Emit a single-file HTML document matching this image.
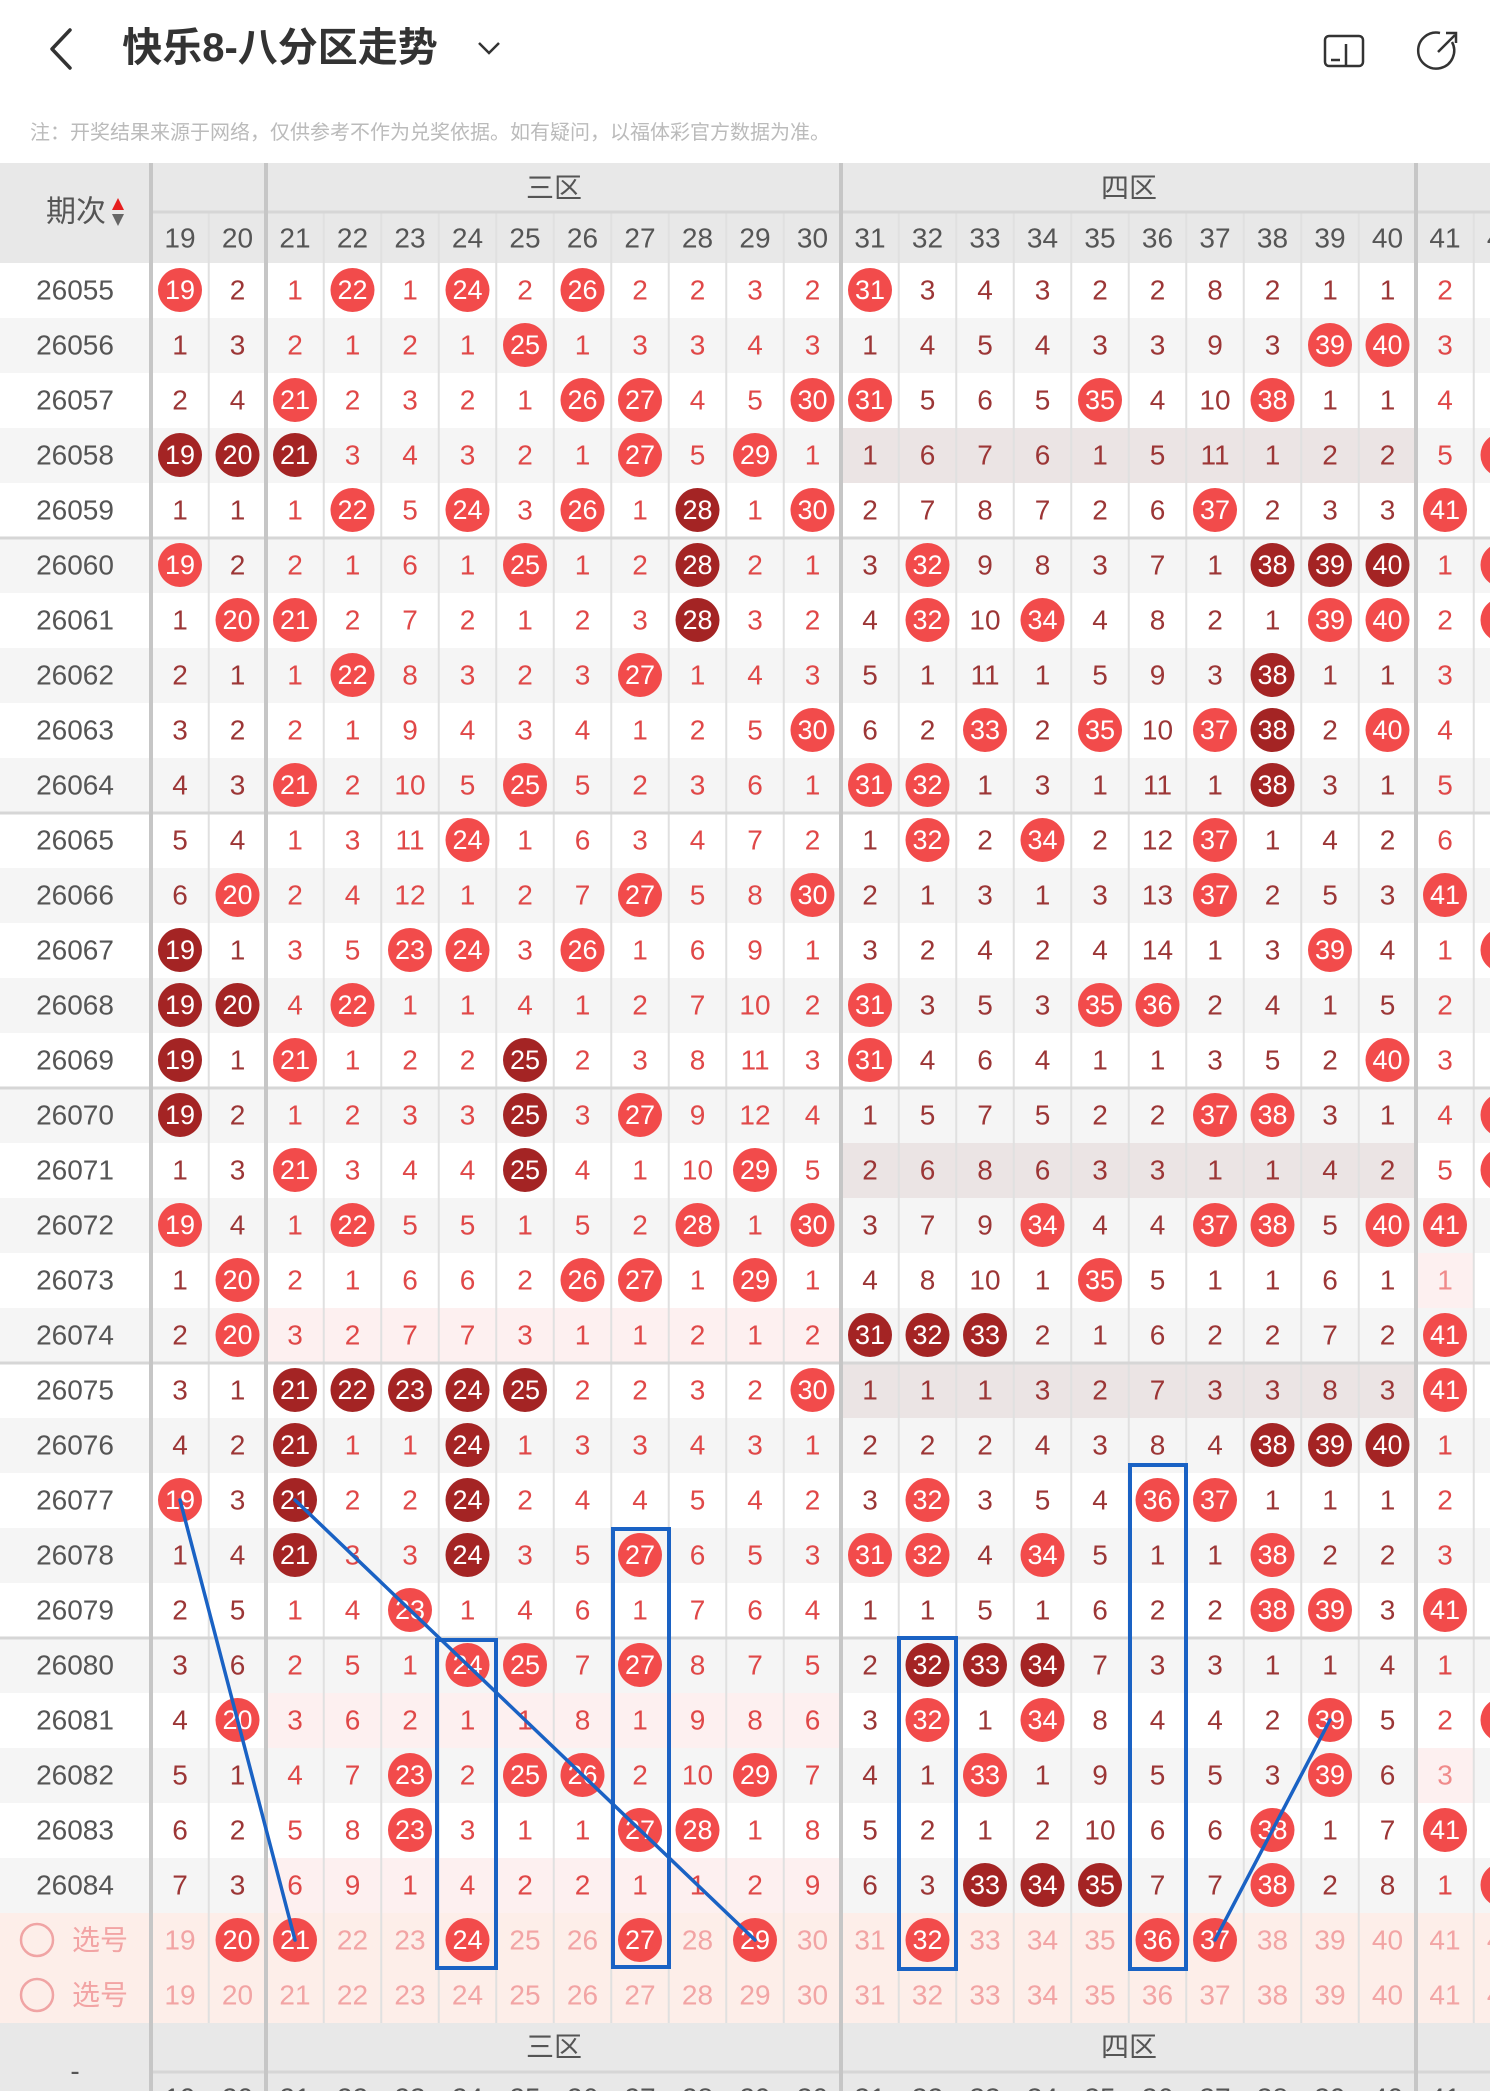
<!DOCTYPE html>
<html><head><meta charset="utf-8"><style>
html,body{margin:0;padding:0;background:#fff;}
svg{display:block}
text{font-family:"Liberation Sans","Noto Sans CJK SC",sans-serif;text-anchor:middle;dominant-baseline:central;font-size:28px}
.a{fill:#9c3636}.b{fill:#e04848}.w{fill:#fff;font-size:27px}.p{fill:#555}.h{fill:#555}.s{fill:#f2a4a4}
.r{fill:#f24b4b}.d{fill:#a42424}
</style></head><body>
<svg width="1490" height="2091" viewBox="0 0 1490 2091" xmlns="http://www.w3.org/2000/svg">
<polyline points="70,30 52,49 70,68" fill="none" stroke="#333" stroke-width="3.5" stroke-linecap="round" stroke-linejoin="round"/>
<text x="280" y="48" style="font-size:40px;font-weight:bold;fill:#333">快乐8-八分区走势</text>
<polyline points="479,43 489,53 499,43" fill="none" stroke="#333" stroke-width="2.5"/>
<rect x="1325" y="36" width="38" height="30" rx="4" fill="none" stroke="#333" stroke-width="2.5"/>
<line x1="1346" y1="44" x2="1346" y2="66" stroke="#333" stroke-width="2.5"/>
<line x1="1331" y1="60" x2="1340" y2="60" stroke="#333" stroke-width="2.5"/>
<path d="M1452,42 A18,18 0 1 1 1440,33" fill="none" stroke="#333" stroke-width="2.5"/>
<line x1="1438" y1="52" x2="1455" y2="35" stroke="#333" stroke-width="2.5"/>
<polyline points="1446,33 1456,33 1456,43" fill="none" stroke="#333" stroke-width="2.5"/>
<text x="30" y="133" style="font-size:20px;fill:#bbb;text-anchor:start">注：开奖结果来源于网络，仅供参考不作为兑奖依据。如有疑问，以福体彩官方数据为准。</text>

<rect x="0" y="163" width="1490" height="100" fill="#e8e8e8"/>
<g fill="#f5f5f5">
<rect x="0" y="318" width="1490" height="55"/><rect x="0" y="428" width="1490" height="55"/><rect x="0" y="538" width="1490" height="55"/><rect x="0" y="648" width="1490" height="55"/><rect x="0" y="758" width="1490" height="55"/><rect x="0" y="868" width="1490" height="55"/><rect x="0" y="978" width="1490" height="55"/><rect x="0" y="1088" width="1490" height="55"/><rect x="0" y="1198" width="1490" height="55"/><rect x="0" y="1308" width="1490" height="55"/><rect x="0" y="1418" width="1490" height="55"/><rect x="0" y="1528" width="1490" height="55"/><rect x="0" y="1638" width="1490" height="55"/><rect x="0" y="1748" width="1490" height="55"/><rect x="0" y="1858" width="1490" height="55"/>
</g>
<g fill="#ebe4e4">
<rect x="841" y="428" width="575" height="55"/><rect x="841" y="1143" width="575" height="55"/><rect x="841" y="1363" width="575" height="55"/>
</g>
<g fill="#fdf0f0">
<rect x="267" y="1308" width="574" height="55"/><rect x="267" y="1693" width="574" height="55"/><rect x="267" y="1858" width="574" height="55"/>
<rect x="1416" y="1253" width="58" height="55"/><rect x="1416" y="1748" width="58" height="55"/>
</g>
<rect x="0" y="1913" width="1490" height="110" fill="#fdeee9"/>
<rect x="0" y="2023" width="1490" height="68" fill="#e8e8e8"/>

<g stroke="#e0e0e0" stroke-width="2">
<line x1="208.75" y1="213" x2="208.75" y2="2023"/>
<line x1="323.75" y1="213" x2="323.75" y2="2023"/><line x1="381.25" y1="213" x2="381.25" y2="2023"/><line x1="438.75" y1="213" x2="438.75" y2="2023"/><line x1="496.25" y1="213" x2="496.25" y2="2023"/><line x1="553.75" y1="213" x2="553.75" y2="2023"/><line x1="611.25" y1="213" x2="611.25" y2="2023"/><line x1="668.75" y1="213" x2="668.75" y2="2023"/><line x1="726.25" y1="213" x2="726.25" y2="2023"/><line x1="783.75" y1="213" x2="783.75" y2="2023"/>
<line x1="898.75" y1="213" x2="898.75" y2="2023"/><line x1="956.25" y1="213" x2="956.25" y2="2023"/><line x1="1013.75" y1="213" x2="1013.75" y2="2023"/><line x1="1071.25" y1="213" x2="1071.25" y2="2023"/><line x1="1128.75" y1="213" x2="1128.75" y2="2023"/><line x1="1186.25" y1="213" x2="1186.25" y2="2023"/><line x1="1243.75" y1="213" x2="1243.75" y2="2023"/><line x1="1301.25" y1="213" x2="1301.25" y2="2023"/><line x1="1358.75" y1="213" x2="1358.75" y2="2023"/>
<line x1="1473.75" y1="213" x2="1473.75" y2="2023"/>
</g>
<g stroke="#d6d6d6" stroke-width="3">
<line x1="0" y1="538" x2="1490" y2="538"/><line x1="0" y1="813" x2="1490" y2="813"/><line x1="0" y1="1088" x2="1490" y2="1088"/><line x1="0" y1="1363" x2="1490" y2="1363"/><line x1="0" y1="1638" x2="1490" y2="1638"/>
<line x1="151" y1="212" x2="1490" y2="212"/><line x1="151" y1="2072" x2="1490" y2="2072"/>
</g>
<g stroke="#c6c6c6" stroke-width="4">
<line x1="151" y1="163" x2="151" y2="2091"/><line x1="266" y1="163" x2="266" y2="2091"/><line x1="841" y1="163" x2="841" y2="2091"/><line x1="1416" y1="163" x2="1416" y2="2091"/>
</g>

<text class="h" x="76" y="212" style="font-size:30px">期次</text>
<polygon points="118,198 112,210 124,210" fill="#e61e1e"/><polygon points="112,214 124,214 118,226" fill="#666"/>
<text class="h" x="554" y="188">三区</text><text class="h" x="1129" y="188">四区</text>
<g transform="translate(0,238)">
<text class="h" x="180">19</text><text class="h" x="237.5">20</text><text class="h" x="295">21</text><text class="h" x="352.5">22</text><text class="h" x="410">23</text><text class="h" x="467.5">24</text><text class="h" x="525">25</text><text class="h" x="582.5">26</text><text class="h" x="640">27</text><text class="h" x="697.5">28</text><text class="h" x="755">29</text><text class="h" x="812.5">30</text><text class="h" x="870">31</text><text class="h" x="927.5">32</text><text class="h" x="985">33</text><text class="h" x="1042.5">34</text><text class="h" x="1100">35</text><text class="h" x="1157.5">36</text><text class="h" x="1215">37</text><text class="h" x="1272.5">38</text><text class="h" x="1330">39</text><text class="h" x="1387.5">40</text><text class="h" x="1445">41</text><text class="h" x="1502.5">42</text>
</g>

<g class="r">
<circle cx="1502.5" cy="455" r="22"/><circle cx="1502.5" cy="565" r="22"/><circle cx="1502.5" cy="620" r="22"/><circle cx="1502.5" cy="950" r="22"/><circle cx="1502.5" cy="1115" r="22"/><circle cx="1502.5" cy="1170" r="22"/><circle cx="1502.5" cy="1720" r="22"/><circle cx="1502.5" cy="1885" r="22"/>
</g>

<g transform="translate(0,290)"><text class="p" x="75">26055</text>
<circle class="r" cx="180" r="22"/><text class="w" x="180">19</text><text class="a" x="237.5">2</text><text class="b" x="295">1</text><circle class="r" cx="352.5" r="22"/><text class="w" x="352.5">22</text><text class="b" x="410">1</text><circle class="r" cx="467.5" r="22"/><text class="w" x="467.5">24</text><text class="b" x="525">2</text><circle class="r" cx="582.5" r="22"/><text class="w" x="582.5">26</text><text class="b" x="640">2</text><text class="b" x="697.5">2</text><text class="b" x="755">3</text><text class="b" x="812.5">2</text><circle class="r" cx="870" r="22"/><text class="w" x="870">31</text><text class="a" x="927.5">3</text><text class="a" x="985">4</text><text class="a" x="1042.5">3</text><text class="a" x="1100">2</text><text class="a" x="1157.5">2</text><text class="a" x="1215">8</text><text class="a" x="1272.5">2</text><text class="a" x="1330">1</text><text class="a" x="1387.5">1</text><text class="b" x="1445">2</text></g>

<g transform="translate(0,345)"><text class="p" x="75">26056</text>
<text class="a" x="180">1</text><text class="a" x="237.5">3</text><text class="b" x="295">2</text><text class="b" x="352.5">1</text><text class="b" x="410">2</text><text class="b" x="467.5">1</text><circle class="r" cx="525" r="22"/><text class="w" x="525">25</text><text class="b" x="582.5">1</text><text class="b" x="640">3</text><text class="b" x="697.5">3</text><text class="b" x="755">4</text><text class="b" x="812.5">3</text><text class="a" x="870">1</text><text class="a" x="927.5">4</text><text class="a" x="985">5</text><text class="a" x="1042.5">4</text><text class="a" x="1100">3</text><text class="a" x="1157.5">3</text><text class="a" x="1215">9</text><text class="a" x="1272.5">3</text><circle class="r" cx="1330" r="22"/><text class="w" x="1330">39</text><circle class="r" cx="1387.5" r="22"/><text class="w" x="1387.5">40</text><text class="b" x="1445">3</text></g>

<g transform="translate(0,400)"><text class="p" x="75">26057</text>
<text class="a" x="180">2</text><text class="a" x="237.5">4</text><circle class="r" cx="295" r="22"/><text class="w" x="295">21</text><text class="b" x="352.5">2</text><text class="b" x="410">3</text><text class="b" x="467.5">2</text><text class="b" x="525">1</text><circle class="r" cx="582.5" r="22"/><text class="w" x="582.5">26</text><circle class="r" cx="640" r="22"/><text class="w" x="640">27</text><text class="b" x="697.5">4</text><text class="b" x="755">5</text><circle class="r" cx="812.5" r="22"/><text class="w" x="812.5">30</text><circle class="r" cx="870" r="22"/><text class="w" x="870">31</text><text class="a" x="927.5">5</text><text class="a" x="985">6</text><text class="a" x="1042.5">5</text><circle class="r" cx="1100" r="22"/><text class="w" x="1100">35</text><text class="a" x="1157.5">4</text><text class="a" x="1215">10</text><circle class="r" cx="1272.5" r="22"/><text class="w" x="1272.5">38</text><text class="a" x="1330">1</text><text class="a" x="1387.5">1</text><text class="b" x="1445">4</text></g>

<g transform="translate(0,455)"><text class="p" x="75">26058</text>
<circle class="d" cx="180" r="22"/><text class="w" x="180">19</text><circle class="d" cx="237.5" r="22"/><text class="w" x="237.5">20</text><circle class="d" cx="295" r="22"/><text class="w" x="295">21</text><text class="b" x="352.5">3</text><text class="b" x="410">4</text><text class="b" x="467.5">3</text><text class="b" x="525">2</text><text class="b" x="582.5">1</text><circle class="r" cx="640" r="22"/><text class="w" x="640">27</text><text class="b" x="697.5">5</text><circle class="r" cx="755" r="22"/><text class="w" x="755">29</text><text class="b" x="812.5">1</text><text class="a" x="870">1</text><text class="a" x="927.5">6</text><text class="a" x="985">7</text><text class="a" x="1042.5">6</text><text class="a" x="1100">1</text><text class="a" x="1157.5">5</text><text class="a" x="1215">11</text><text class="a" x="1272.5">1</text><text class="a" x="1330">2</text><text class="a" x="1387.5">2</text><text class="b" x="1445">5</text></g>

<g transform="translate(0,510)"><text class="p" x="75">26059</text>
<text class="a" x="180">1</text><text class="a" x="237.5">1</text><text class="b" x="295">1</text><circle class="r" cx="352.5" r="22"/><text class="w" x="352.5">22</text><text class="b" x="410">5</text><circle class="r" cx="467.5" r="22"/><text class="w" x="467.5">24</text><text class="b" x="525">3</text><circle class="r" cx="582.5" r="22"/><text class="w" x="582.5">26</text><text class="b" x="640">1</text><circle class="d" cx="697.5" r="22"/><text class="w" x="697.5">28</text><text class="b" x="755">1</text><circle class="r" cx="812.5" r="22"/><text class="w" x="812.5">30</text><text class="a" x="870">2</text><text class="a" x="927.5">7</text><text class="a" x="985">8</text><text class="a" x="1042.5">7</text><text class="a" x="1100">2</text><text class="a" x="1157.5">6</text><circle class="r" cx="1215" r="22"/><text class="w" x="1215">37</text><text class="a" x="1272.5">2</text><text class="a" x="1330">3</text><text class="a" x="1387.5">3</text><circle class="r" cx="1445" r="22"/><text class="w" x="1445">41</text></g>

<g transform="translate(0,565)"><text class="p" x="75">26060</text>
<circle class="r" cx="180" r="22"/><text class="w" x="180">19</text><text class="a" x="237.5">2</text><text class="b" x="295">2</text><text class="b" x="352.5">1</text><text class="b" x="410">6</text><text class="b" x="467.5">1</text><circle class="r" cx="525" r="22"/><text class="w" x="525">25</text><text class="b" x="582.5">1</text><text class="b" x="640">2</text><circle class="d" cx="697.5" r="22"/><text class="w" x="697.5">28</text><text class="b" x="755">2</text><text class="b" x="812.5">1</text><text class="a" x="870">3</text><circle class="r" cx="927.5" r="22"/><text class="w" x="927.5">32</text><text class="a" x="985">9</text><text class="a" x="1042.5">8</text><text class="a" x="1100">3</text><text class="a" x="1157.5">7</text><text class="a" x="1215">1</text><circle class="d" cx="1272.5" r="22"/><text class="w" x="1272.5">38</text><circle class="d" cx="1330" r="22"/><text class="w" x="1330">39</text><circle class="d" cx="1387.5" r="22"/><text class="w" x="1387.5">40</text><text class="b" x="1445">1</text></g>

<g transform="translate(0,620)"><text class="p" x="75">26061</text>
<text class="a" x="180">1</text><circle class="r" cx="237.5" r="22"/><text class="w" x="237.5">20</text><circle class="r" cx="295" r="22"/><text class="w" x="295">21</text><text class="b" x="352.5">2</text><text class="b" x="410">7</text><text class="b" x="467.5">2</text><text class="b" x="525">1</text><text class="b" x="582.5">2</text><text class="b" x="640">3</text><circle class="d" cx="697.5" r="22"/><text class="w" x="697.5">28</text><text class="b" x="755">3</text><text class="b" x="812.5">2</text><text class="a" x="870">4</text><circle class="r" cx="927.5" r="22"/><text class="w" x="927.5">32</text><text class="a" x="985">10</text><circle class="r" cx="1042.5" r="22"/><text class="w" x="1042.5">34</text><text class="a" x="1100">4</text><text class="a" x="1157.5">8</text><text class="a" x="1215">2</text><text class="a" x="1272.5">1</text><circle class="r" cx="1330" r="22"/><text class="w" x="1330">39</text><circle class="r" cx="1387.5" r="22"/><text class="w" x="1387.5">40</text><text class="b" x="1445">2</text></g>

<g transform="translate(0,675)"><text class="p" x="75">26062</text>
<text class="a" x="180">2</text><text class="a" x="237.5">1</text><text class="b" x="295">1</text><circle class="r" cx="352.5" r="22"/><text class="w" x="352.5">22</text><text class="b" x="410">8</text><text class="b" x="467.5">3</text><text class="b" x="525">2</text><text class="b" x="582.5">3</text><circle class="r" cx="640" r="22"/><text class="w" x="640">27</text><text class="b" x="697.5">1</text><text class="b" x="755">4</text><text class="b" x="812.5">3</text><text class="a" x="870">5</text><text class="a" x="927.5">1</text><text class="a" x="985">11</text><text class="a" x="1042.5">1</text><text class="a" x="1100">5</text><text class="a" x="1157.5">9</text><text class="a" x="1215">3</text><circle class="d" cx="1272.5" r="22"/><text class="w" x="1272.5">38</text><text class="a" x="1330">1</text><text class="a" x="1387.5">1</text><text class="b" x="1445">3</text></g>

<g transform="translate(0,730)"><text class="p" x="75">26063</text>
<text class="a" x="180">3</text><text class="a" x="237.5">2</text><text class="b" x="295">2</text><text class="b" x="352.5">1</text><text class="b" x="410">9</text><text class="b" x="467.5">4</text><text class="b" x="525">3</text><text class="b" x="582.5">4</text><text class="b" x="640">1</text><text class="b" x="697.5">2</text><text class="b" x="755">5</text><circle class="r" cx="812.5" r="22"/><text class="w" x="812.5">30</text><text class="a" x="870">6</text><text class="a" x="927.5">2</text><circle class="r" cx="985" r="22"/><text class="w" x="985">33</text><text class="a" x="1042.5">2</text><circle class="r" cx="1100" r="22"/><text class="w" x="1100">35</text><text class="a" x="1157.5">10</text><circle class="r" cx="1215" r="22"/><text class="w" x="1215">37</text><circle class="d" cx="1272.5" r="22"/><text class="w" x="1272.5">38</text><text class="a" x="1330">2</text><circle class="r" cx="1387.5" r="22"/><text class="w" x="1387.5">40</text><text class="b" x="1445">4</text></g>

<g transform="translate(0,785)"><text class="p" x="75">26064</text>
<text class="a" x="180">4</text><text class="a" x="237.5">3</text><circle class="r" cx="295" r="22"/><text class="w" x="295">21</text><text class="b" x="352.5">2</text><text class="b" x="410">10</text><text class="b" x="467.5">5</text><circle class="r" cx="525" r="22"/><text class="w" x="525">25</text><text class="b" x="582.5">5</text><text class="b" x="640">2</text><text class="b" x="697.5">3</text><text class="b" x="755">6</text><text class="b" x="812.5">1</text><circle class="r" cx="870" r="22"/><text class="w" x="870">31</text><circle class="r" cx="927.5" r="22"/><text class="w" x="927.5">32</text><text class="a" x="985">1</text><text class="a" x="1042.5">3</text><text class="a" x="1100">1</text><text class="a" x="1157.5">11</text><text class="a" x="1215">1</text><circle class="d" cx="1272.5" r="22"/><text class="w" x="1272.5">38</text><text class="a" x="1330">3</text><text class="a" x="1387.5">1</text><text class="b" x="1445">5</text></g>

<g transform="translate(0,840)"><text class="p" x="75">26065</text>
<text class="a" x="180">5</text><text class="a" x="237.5">4</text><text class="b" x="295">1</text><text class="b" x="352.5">3</text><text class="b" x="410">11</text><circle class="r" cx="467.5" r="22"/><text class="w" x="467.5">24</text><text class="b" x="525">1</text><text class="b" x="582.5">6</text><text class="b" x="640">3</text><text class="b" x="697.5">4</text><text class="b" x="755">7</text><text class="b" x="812.5">2</text><text class="a" x="870">1</text><circle class="r" cx="927.5" r="22"/><text class="w" x="927.5">32</text><text class="a" x="985">2</text><circle class="r" cx="1042.5" r="22"/><text class="w" x="1042.5">34</text><text class="a" x="1100">2</text><text class="a" x="1157.5">12</text><circle class="r" cx="1215" r="22"/><text class="w" x="1215">37</text><text class="a" x="1272.5">1</text><text class="a" x="1330">4</text><text class="a" x="1387.5">2</text><text class="b" x="1445">6</text></g>

<g transform="translate(0,895)"><text class="p" x="75">26066</text>
<text class="a" x="180">6</text><circle class="r" cx="237.5" r="22"/><text class="w" x="237.5">20</text><text class="b" x="295">2</text><text class="b" x="352.5">4</text><text class="b" x="410">12</text><text class="b" x="467.5">1</text><text class="b" x="525">2</text><text class="b" x="582.5">7</text><circle class="r" cx="640" r="22"/><text class="w" x="640">27</text><text class="b" x="697.5">5</text><text class="b" x="755">8</text><circle class="r" cx="812.5" r="22"/><text class="w" x="812.5">30</text><text class="a" x="870">2</text><text class="a" x="927.5">1</text><text class="a" x="985">3</text><text class="a" x="1042.5">1</text><text class="a" x="1100">3</text><text class="a" x="1157.5">13</text><circle class="r" cx="1215" r="22"/><text class="w" x="1215">37</text><text class="a" x="1272.5">2</text><text class="a" x="1330">5</text><text class="a" x="1387.5">3</text><circle class="r" cx="1445" r="22"/><text class="w" x="1445">41</text></g>

<g transform="translate(0,950)"><text class="p" x="75">26067</text>
<circle class="d" cx="180" r="22"/><text class="w" x="180">19</text><text class="a" x="237.5">1</text><text class="b" x="295">3</text><text class="b" x="352.5">5</text><circle class="r" cx="410" r="22"/><text class="w" x="410">23</text><circle class="r" cx="467.5" r="22"/><text class="w" x="467.5">24</text><text class="b" x="525">3</text><circle class="r" cx="582.5" r="22"/><text class="w" x="582.5">26</text><text class="b" x="640">1</text><text class="b" x="697.5">6</text><text class="b" x="755">9</text><text class="b" x="812.5">1</text><text class="a" x="870">3</text><text class="a" x="927.5">2</text><text class="a" x="985">4</text><text class="a" x="1042.5">2</text><text class="a" x="1100">4</text><text class="a" x="1157.5">14</text><text class="a" x="1215">1</text><text class="a" x="1272.5">3</text><circle class="r" cx="1330" r="22"/><text class="w" x="1330">39</text><text class="a" x="1387.5">4</text><text class="b" x="1445">1</text></g>

<g transform="translate(0,1005)"><text class="p" x="75">26068</text>
<circle class="d" cx="180" r="22"/><text class="w" x="180">19</text><circle class="d" cx="237.5" r="22"/><text class="w" x="237.5">20</text><text class="b" x="295">4</text><circle class="r" cx="352.5" r="22"/><text class="w" x="352.5">22</text><text class="b" x="410">1</text><text class="b" x="467.5">1</text><text class="b" x="525">4</text><text class="b" x="582.5">1</text><text class="b" x="640">2</text><text class="b" x="697.5">7</text><text class="b" x="755">10</text><text class="b" x="812.5">2</text><circle class="r" cx="870" r="22"/><text class="w" x="870">31</text><text class="a" x="927.5">3</text><text class="a" x="985">5</text><text class="a" x="1042.5">3</text><circle class="r" cx="1100" r="22"/><text class="w" x="1100">35</text><circle class="r" cx="1157.5" r="22"/><text class="w" x="1157.5">36</text><text class="a" x="1215">2</text><text class="a" x="1272.5">4</text><text class="a" x="1330">1</text><text class="a" x="1387.5">5</text><text class="b" x="1445">2</text></g>

<g transform="translate(0,1060)"><text class="p" x="75">26069</text>
<circle class="d" cx="180" r="22"/><text class="w" x="180">19</text><text class="a" x="237.5">1</text><circle class="r" cx="295" r="22"/><text class="w" x="295">21</text><text class="b" x="352.5">1</text><text class="b" x="410">2</text><text class="b" x="467.5">2</text><circle class="d" cx="525" r="22"/><text class="w" x="525">25</text><text class="b" x="582.5">2</text><text class="b" x="640">3</text><text class="b" x="697.5">8</text><text class="b" x="755">11</text><text class="b" x="812.5">3</text><circle class="r" cx="870" r="22"/><text class="w" x="870">31</text><text class="a" x="927.5">4</text><text class="a" x="985">6</text><text class="a" x="1042.5">4</text><text class="a" x="1100">1</text><text class="a" x="1157.5">1</text><text class="a" x="1215">3</text><text class="a" x="1272.5">5</text><text class="a" x="1330">2</text><circle class="r" cx="1387.5" r="22"/><text class="w" x="1387.5">40</text><text class="b" x="1445">3</text></g>

<g transform="translate(0,1115)"><text class="p" x="75">26070</text>
<circle class="d" cx="180" r="22"/><text class="w" x="180">19</text><text class="a" x="237.5">2</text><text class="b" x="295">1</text><text class="b" x="352.5">2</text><text class="b" x="410">3</text><text class="b" x="467.5">3</text><circle class="d" cx="525" r="22"/><text class="w" x="525">25</text><text class="b" x="582.5">3</text><circle class="r" cx="640" r="22"/><text class="w" x="640">27</text><text class="b" x="697.5">9</text><text class="b" x="755">12</text><text class="b" x="812.5">4</text><text class="a" x="870">1</text><text class="a" x="927.5">5</text><text class="a" x="985">7</text><text class="a" x="1042.5">5</text><text class="a" x="1100">2</text><text class="a" x="1157.5">2</text><circle class="r" cx="1215" r="22"/><text class="w" x="1215">37</text><circle class="r" cx="1272.5" r="22"/><text class="w" x="1272.5">38</text><text class="a" x="1330">3</text><text class="a" x="1387.5">1</text><text class="b" x="1445">4</text></g>

<g transform="translate(0,1170)"><text class="p" x="75">26071</text>
<text class="a" x="180">1</text><text class="a" x="237.5">3</text><circle class="r" cx="295" r="22"/><text class="w" x="295">21</text><text class="b" x="352.5">3</text><text class="b" x="410">4</text><text class="b" x="467.5">4</text><circle class="d" cx="525" r="22"/><text class="w" x="525">25</text><text class="b" x="582.5">4</text><text class="b" x="640">1</text><text class="b" x="697.5">10</text><circle class="r" cx="755" r="22"/><text class="w" x="755">29</text><text class="b" x="812.5">5</text><text class="a" x="870">2</text><text class="a" x="927.5">6</text><text class="a" x="985">8</text><text class="a" x="1042.5">6</text><text class="a" x="1100">3</text><text class="a" x="1157.5">3</text><text class="a" x="1215">1</text><text class="a" x="1272.5">1</text><text class="a" x="1330">4</text><text class="a" x="1387.5">2</text><text class="b" x="1445">5</text></g>

<g transform="translate(0,1225)"><text class="p" x="75">26072</text>
<circle class="r" cx="180" r="22"/><text class="w" x="180">19</text><text class="a" x="237.5">4</text><text class="b" x="295">1</text><circle class="r" cx="352.5" r="22"/><text class="w" x="352.5">22</text><text class="b" x="410">5</text><text class="b" x="467.5">5</text><text class="b" x="525">1</text><text class="b" x="582.5">5</text><text class="b" x="640">2</text><circle class="r" cx="697.5" r="22"/><text class="w" x="697.5">28</text><text class="b" x="755">1</text><circle class="r" cx="812.5" r="22"/><text class="w" x="812.5">30</text><text class="a" x="870">3</text><text class="a" x="927.5">7</text><text class="a" x="985">9</text><circle class="r" cx="1042.5" r="22"/><text class="w" x="1042.5">34</text><text class="a" x="1100">4</text><text class="a" x="1157.5">4</text><circle class="r" cx="1215" r="22"/><text class="w" x="1215">37</text><circle class="r" cx="1272.5" r="22"/><text class="w" x="1272.5">38</text><text class="a" x="1330">5</text><circle class="r" cx="1387.5" r="22"/><text class="w" x="1387.5">40</text><circle class="r" cx="1445" r="22"/><text class="w" x="1445">41</text></g>

<g transform="translate(0,1280)"><text class="p" x="75">26073</text>
<text class="a" x="180">1</text><circle class="r" cx="237.5" r="22"/><text class="w" x="237.5">20</text><text class="b" x="295">2</text><text class="b" x="352.5">1</text><text class="b" x="410">6</text><text class="b" x="467.5">6</text><text class="b" x="525">2</text><circle class="r" cx="582.5" r="22"/><text class="w" x="582.5">26</text><circle class="r" cx="640" r="22"/><text class="w" x="640">27</text><text class="b" x="697.5">1</text><circle class="r" cx="755" r="22"/><text class="w" x="755">29</text><text class="b" x="812.5">1</text><text class="a" x="870">4</text><text class="a" x="927.5">8</text><text class="a" x="985">10</text><text class="a" x="1042.5">1</text><circle class="r" cx="1100" r="22"/><text class="w" x="1100">35</text><text class="a" x="1157.5">5</text><text class="a" x="1215">1</text><text class="a" x="1272.5">1</text><text class="a" x="1330">6</text><text class="a" x="1387.5">1</text><text class="b" x="1445" style="fill:#f08a8a">1</text></g>

<g transform="translate(0,1335)"><text class="p" x="75">26074</text>
<text class="a" x="180">2</text><circle class="r" cx="237.5" r="22"/><text class="w" x="237.5">20</text><text class="b" x="295">3</text><text class="b" x="352.5">2</text><text class="b" x="410">7</text><text class="b" x="467.5">7</text><text class="b" x="525">3</text><text class="b" x="582.5">1</text><text class="b" x="640">1</text><text class="b" x="697.5">2</text><text class="b" x="755">1</text><text class="b" x="812.5">2</text><circle class="d" cx="870" r="22"/><text class="w" x="870">31</text><circle class="d" cx="927.5" r="22"/><text class="w" x="927.5">32</text><circle class="d" cx="985" r="22"/><text class="w" x="985">33</text><text class="a" x="1042.5">2</text><text class="a" x="1100">1</text><text class="a" x="1157.5">6</text><text class="a" x="1215">2</text><text class="a" x="1272.5">2</text><text class="a" x="1330">7</text><text class="a" x="1387.5">2</text><circle class="r" cx="1445" r="22"/><text class="w" x="1445">41</text></g>

<g transform="translate(0,1390)"><text class="p" x="75">26075</text>
<text class="a" x="180">3</text><text class="a" x="237.5">1</text><circle class="d" cx="295" r="22"/><text class="w" x="295">21</text><circle class="d" cx="352.5" r="22"/><text class="w" x="352.5">22</text><circle class="d" cx="410" r="22"/><text class="w" x="410">23</text><circle class="d" cx="467.5" r="22"/><text class="w" x="467.5">24</text><circle class="d" cx="525" r="22"/><text class="w" x="525">25</text><text class="b" x="582.5">2</text><text class="b" x="640">2</text><text class="b" x="697.5">3</text><text class="b" x="755">2</text><circle class="r" cx="812.5" r="22"/><text class="w" x="812.5">30</text><text class="a" x="870">1</text><text class="a" x="927.5">1</text><text class="a" x="985">1</text><text class="a" x="1042.5">3</text><text class="a" x="1100">2</text><text class="a" x="1157.5">7</text><text class="a" x="1215">3</text><text class="a" x="1272.5">3</text><text class="a" x="1330">8</text><text class="a" x="1387.5">3</text><circle class="r" cx="1445" r="22"/><text class="w" x="1445">41</text></g>

<g transform="translate(0,1445)"><text class="p" x="75">26076</text>
<text class="a" x="180">4</text><text class="a" x="237.5">2</text><circle class="d" cx="295" r="22"/><text class="w" x="295">21</text><text class="b" x="352.5">1</text><text class="b" x="410">1</text><circle class="d" cx="467.5" r="22"/><text class="w" x="467.5">24</text><text class="b" x="525">1</text><text class="b" x="582.5">3</text><text class="b" x="640">3</text><text class="b" x="697.5">4</text><text class="b" x="755">3</text><text class="b" x="812.5">1</text><text class="a" x="870">2</text><text class="a" x="927.5">2</text><text class="a" x="985">2</text><text class="a" x="1042.5">4</text><text class="a" x="1100">3</text><text class="a" x="1157.5">8</text><text class="a" x="1215">4</text><circle class="d" cx="1272.5" r="22"/><text class="w" x="1272.5">38</text><circle class="d" cx="1330" r="22"/><text class="w" x="1330">39</text><circle class="d" cx="1387.5" r="22"/><text class="w" x="1387.5">40</text><text class="b" x="1445">1</text></g>

<g transform="translate(0,1500)"><text class="p" x="75">26077</text>
<circle class="r" cx="180" r="22"/><text class="w" x="180">19</text><text class="a" x="237.5">3</text><circle class="d" cx="295" r="22"/><text class="w" x="295">21</text><text class="b" x="352.5">2</text><text class="b" x="410">2</text><circle class="d" cx="467.5" r="22"/><text class="w" x="467.5">24</text><text class="b" x="525">2</text><text class="b" x="582.5">4</text><text class="b" x="640">4</text><text class="b" x="697.5">5</text><text class="b" x="755">4</text><text class="b" x="812.5">2</text><text class="a" x="870">3</text><circle class="r" cx="927.5" r="22"/><text class="w" x="927.5">32</text><text class="a" x="985">3</text><text class="a" x="1042.5">5</text><text class="a" x="1100">4</text><circle class="r" cx="1157.5" r="22"/><text class="w" x="1157.5">36</text><circle class="r" cx="1215" r="22"/><text class="w" x="1215">37</text><text class="a" x="1272.5">1</text><text class="a" x="1330">1</text><text class="a" x="1387.5">1</text><text class="b" x="1445">2</text></g>

<g transform="translate(0,1555)"><text class="p" x="75">26078</text>
<text class="a" x="180">1</text><text class="a" x="237.5">4</text><circle class="d" cx="295" r="22"/><text class="w" x="295">21</text><text class="b" x="352.5">3</text><text class="b" x="410">3</text><circle class="d" cx="467.5" r="22"/><text class="w" x="467.5">24</text><text class="b" x="525">3</text><text class="b" x="582.5">5</text><circle class="r" cx="640" r="22"/><text class="w" x="640">27</text><text class="b" x="697.5">6</text><text class="b" x="755">5</text><text class="b" x="812.5">3</text><circle class="r" cx="870" r="22"/><text class="w" x="870">31</text><circle class="r" cx="927.5" r="22"/><text class="w" x="927.5">32</text><text class="a" x="985">4</text><circle class="r" cx="1042.5" r="22"/><text class="w" x="1042.5">34</text><text class="a" x="1100">5</text><text class="a" x="1157.5">1</text><text class="a" x="1215">1</text><circle class="r" cx="1272.5" r="22"/><text class="w" x="1272.5">38</text><text class="a" x="1330">2</text><text class="a" x="1387.5">2</text><text class="b" x="1445">3</text></g>

<g transform="translate(0,1610)"><text class="p" x="75">26079</text>
<text class="a" x="180">2</text><text class="a" x="237.5">5</text><text class="b" x="295">1</text><text class="b" x="352.5">4</text><circle class="r" cx="410" r="22"/><text class="w" x="410">23</text><text class="b" x="467.5">1</text><text class="b" x="525">4</text><text class="b" x="582.5">6</text><text class="b" x="640">1</text><text class="b" x="697.5">7</text><text class="b" x="755">6</text><text class="b" x="812.5">4</text><text class="a" x="870">1</text><text class="a" x="927.5">1</text><text class="a" x="985">5</text><text class="a" x="1042.5">1</text><text class="a" x="1100">6</text><text class="a" x="1157.5">2</text><text class="a" x="1215">2</text><circle class="r" cx="1272.5" r="22"/><text class="w" x="1272.5">38</text><circle class="r" cx="1330" r="22"/><text class="w" x="1330">39</text><text class="a" x="1387.5">3</text><circle class="r" cx="1445" r="22"/><text class="w" x="1445">41</text></g>

<g transform="translate(0,1665)"><text class="p" x="75">26080</text>
<text class="a" x="180">3</text><text class="a" x="237.5">6</text><text class="b" x="295">2</text><text class="b" x="352.5">5</text><text class="b" x="410">1</text><circle class="r" cx="467.5" r="22"/><text class="w" x="467.5">24</text><circle class="r" cx="525" r="22"/><text class="w" x="525">25</text><text class="b" x="582.5">7</text><circle class="r" cx="640" r="22"/><text class="w" x="640">27</text><text class="b" x="697.5">8</text><text class="b" x="755">7</text><text class="b" x="812.5">5</text><text class="a" x="870">2</text><circle class="d" cx="927.5" r="22"/><text class="w" x="927.5">32</text><circle class="d" cx="985" r="22"/><text class="w" x="985">33</text><circle class="d" cx="1042.5" r="22"/><text class="w" x="1042.5">34</text><text class="a" x="1100">7</text><text class="a" x="1157.5">3</text><text class="a" x="1215">3</text><text class="a" x="1272.5">1</text><text class="a" x="1330">1</text><text class="a" x="1387.5">4</text><text class="b" x="1445">1</text></g>

<g transform="translate(0,1720)"><text class="p" x="75">26081</text>
<text class="a" x="180">4</text><circle class="r" cx="237.5" r="22"/><text class="w" x="237.5">20</text><text class="b" x="295">3</text><text class="b" x="352.5">6</text><text class="b" x="410">2</text><text class="b" x="467.5">1</text><text class="b" x="525">1</text><text class="b" x="582.5">8</text><text class="b" x="640">1</text><text class="b" x="697.5">9</text><text class="b" x="755">8</text><text class="b" x="812.5">6</text><text class="a" x="870">3</text><circle class="r" cx="927.5" r="22"/><text class="w" x="927.5">32</text><text class="a" x="985">1</text><circle class="r" cx="1042.5" r="22"/><text class="w" x="1042.5">34</text><text class="a" x="1100">8</text><text class="a" x="1157.5">4</text><text class="a" x="1215">4</text><text class="a" x="1272.5">2</text><circle class="r" cx="1330" r="22"/><text class="w" x="1330">39</text><text class="a" x="1387.5">5</text><text class="b" x="1445">2</text></g>

<g transform="translate(0,1775)"><text class="p" x="75">26082</text>
<text class="a" x="180">5</text><text class="a" x="237.5">1</text><text class="b" x="295">4</text><text class="b" x="352.5">7</text><circle class="r" cx="410" r="22"/><text class="w" x="410">23</text><text class="b" x="467.5">2</text><circle class="r" cx="525" r="22"/><text class="w" x="525">25</text><circle class="r" cx="582.5" r="22"/><text class="w" x="582.5">26</text><text class="b" x="640">2</text><text class="b" x="697.5">10</text><circle class="r" cx="755" r="22"/><text class="w" x="755">29</text><text class="b" x="812.5">7</text><text class="a" x="870">4</text><text class="a" x="927.5">1</text><circle class="r" cx="985" r="22"/><text class="w" x="985">33</text><text class="a" x="1042.5">1</text><text class="a" x="1100">9</text><text class="a" x="1157.5">5</text><text class="a" x="1215">5</text><text class="a" x="1272.5">3</text><circle class="r" cx="1330" r="22"/><text class="w" x="1330">39</text><text class="a" x="1387.5">6</text><text class="b" x="1445" style="fill:#f08a8a">3</text></g>

<g transform="translate(0,1830)"><text class="p" x="75">26083</text>
<text class="a" x="180">6</text><text class="a" x="237.5">2</text><text class="b" x="295">5</text><text class="b" x="352.5">8</text><circle class="r" cx="410" r="22"/><text class="w" x="410">23</text><text class="b" x="467.5">3</text><text class="b" x="525">1</text><text class="b" x="582.5">1</text><circle class="r" cx="640" r="22"/><text class="w" x="640">27</text><circle class="r" cx="697.5" r="22"/><text class="w" x="697.5">28</text><text class="b" x="755">1</text><text class="b" x="812.5">8</text><text class="a" x="870">5</text><text class="a" x="927.5">2</text><text class="a" x="985">1</text><text class="a" x="1042.5">2</text><text class="a" x="1100">10</text><text class="a" x="1157.5">6</text><text class="a" x="1215">6</text><circle class="r" cx="1272.5" r="22"/><text class="w" x="1272.5">38</text><text class="a" x="1330">1</text><text class="a" x="1387.5">7</text><circle class="r" cx="1445" r="22"/><text class="w" x="1445">41</text></g>

<g transform="translate(0,1885)"><text class="p" x="75">26084</text>
<text class="a" x="180">7</text><text class="a" x="237.5">3</text><text class="b" x="295">6</text><text class="b" x="352.5">9</text><text class="b" x="410">1</text><text class="b" x="467.5">4</text><text class="b" x="525">2</text><text class="b" x="582.5">2</text><text class="b" x="640">1</text><text class="b" x="697.5">1</text><text class="b" x="755">2</text><text class="b" x="812.5">9</text><text class="a" x="870">6</text><text class="a" x="927.5">3</text><circle class="d" cx="985" r="22"/><text class="w" x="985">33</text><circle class="d" cx="1042.5" r="22"/><text class="w" x="1042.5">34</text><circle class="d" cx="1100" r="22"/><text class="w" x="1100">35</text><text class="a" x="1157.5">7</text><text class="a" x="1215">7</text><circle class="r" cx="1272.5" r="22"/><text class="w" x="1272.5">38</text><text class="a" x="1330">2</text><text class="a" x="1387.5">8</text><text class="b" x="1445">1</text></g>

<g transform="translate(0,1940)">
<circle cx="37" r="16" fill="none" stroke="#f0a4a4" stroke-width="2.5"/><text class="s" x="100">选号</text>
<text class="s" x="180">19</text><circle class="r" cx="237.5" r="22"/><text class="w" x="237.5">20</text><circle class="r" cx="295" r="22"/><text class="w" x="295">21</text><text class="s" x="352.5">22</text><text class="s" x="410">23</text><circle class="r" cx="467.5" r="22"/><text class="w" x="467.5">24</text><text class="s" x="525">25</text><text class="s" x="582.5">26</text><circle class="r" cx="640" r="22"/><text class="w" x="640">27</text><text class="s" x="697.5">28</text><circle class="r" cx="755" r="22"/><text class="w" x="755">29</text><text class="s" x="812.5">30</text><text class="s" x="870">31</text><circle class="r" cx="927.5" r="22"/><text class="w" x="927.5">32</text><text class="s" x="985">33</text><text class="s" x="1042.5">34</text><text class="s" x="1100">35</text><circle class="r" cx="1157.5" r="22"/><text class="w" x="1157.5">36</text><circle class="r" cx="1215" r="22"/><text class="w" x="1215">37</text><text class="s" x="1272.5">38</text><text class="s" x="1330">39</text><text class="s" x="1387.5">40</text><text class="s" x="1445">41</text><text class="s" x="1502.5">42</text>
</g>
<g transform="translate(0,1995)">
<circle cx="37" r="16" fill="none" stroke="#f0a4a4" stroke-width="2.5"/><text class="s" x="100">选号</text>
<text class="s" x="180">19</text><text class="s" x="237.5">20</text><text class="s" x="295">21</text><text class="s" x="352.5">22</text><text class="s" x="410">23</text><text class="s" x="467.5">24</text><text class="s" x="525">25</text><text class="s" x="582.5">26</text><text class="s" x="640">27</text><text class="s" x="697.5">28</text><text class="s" x="755">29</text><text class="s" x="812.5">30</text><text class="s" x="870">31</text><text class="s" x="927.5">32</text><text class="s" x="985">33</text><text class="s" x="1042.5">34</text><text class="s" x="1100">35</text><text class="s" x="1157.5">36</text><text class="s" x="1215">37</text><text class="s" x="1272.5">38</text><text class="s" x="1330">39</text><text class="s" x="1387.5">40</text><text class="s" x="1445">41</text><text class="s" x="1502.5">42</text>
</g>

<text class="h" x="554" y="2047">三区</text><text class="h" x="1129" y="2047">四区</text>
<text class="h" x="75" y="2071">-</text>
<g transform="translate(0,2098)">
<text class="h" x="180">19</text><text class="h" x="237.5">20</text><text class="h" x="295">21</text><text class="h" x="352.5">22</text><text class="h" x="410">23</text><text class="h" x="467.5">24</text><text class="h" x="525">25</text><text class="h" x="582.5">26</text><text class="h" x="640">27</text><text class="h" x="697.5">28</text><text class="h" x="755">29</text><text class="h" x="812.5">30</text><text class="h" x="870">31</text><text class="h" x="927.5">32</text><text class="h" x="985">33</text><text class="h" x="1042.5">34</text><text class="h" x="1100">35</text><text class="h" x="1157.5">36</text><text class="h" x="1215">37</text><text class="h" x="1272.5">38</text><text class="h" x="1330">39</text><text class="h" x="1387.5">40</text><text class="h" x="1445">41</text>
</g>

<g fill="none" stroke="#1a62c4" stroke-width="4">
<rect x="437" y="1640" width="59" height="328"/>
<rect x="613" y="1529" width="56" height="438"/>
<rect x="899" y="1638" width="57" height="331"/>
<rect x="1130" y="1465" width="56" height="504"/>
</g>
<g stroke="#1a62c4" stroke-width="3.5" stroke-linecap="round">
<line x1="180" y1="1500" x2="295" y2="1940"/>
<line x1="295" y1="1500" x2="755" y2="1940"/>
<line x1="1215" y1="1940" x2="1330" y2="1720"/>
</g>
</svg>
</body></html>
